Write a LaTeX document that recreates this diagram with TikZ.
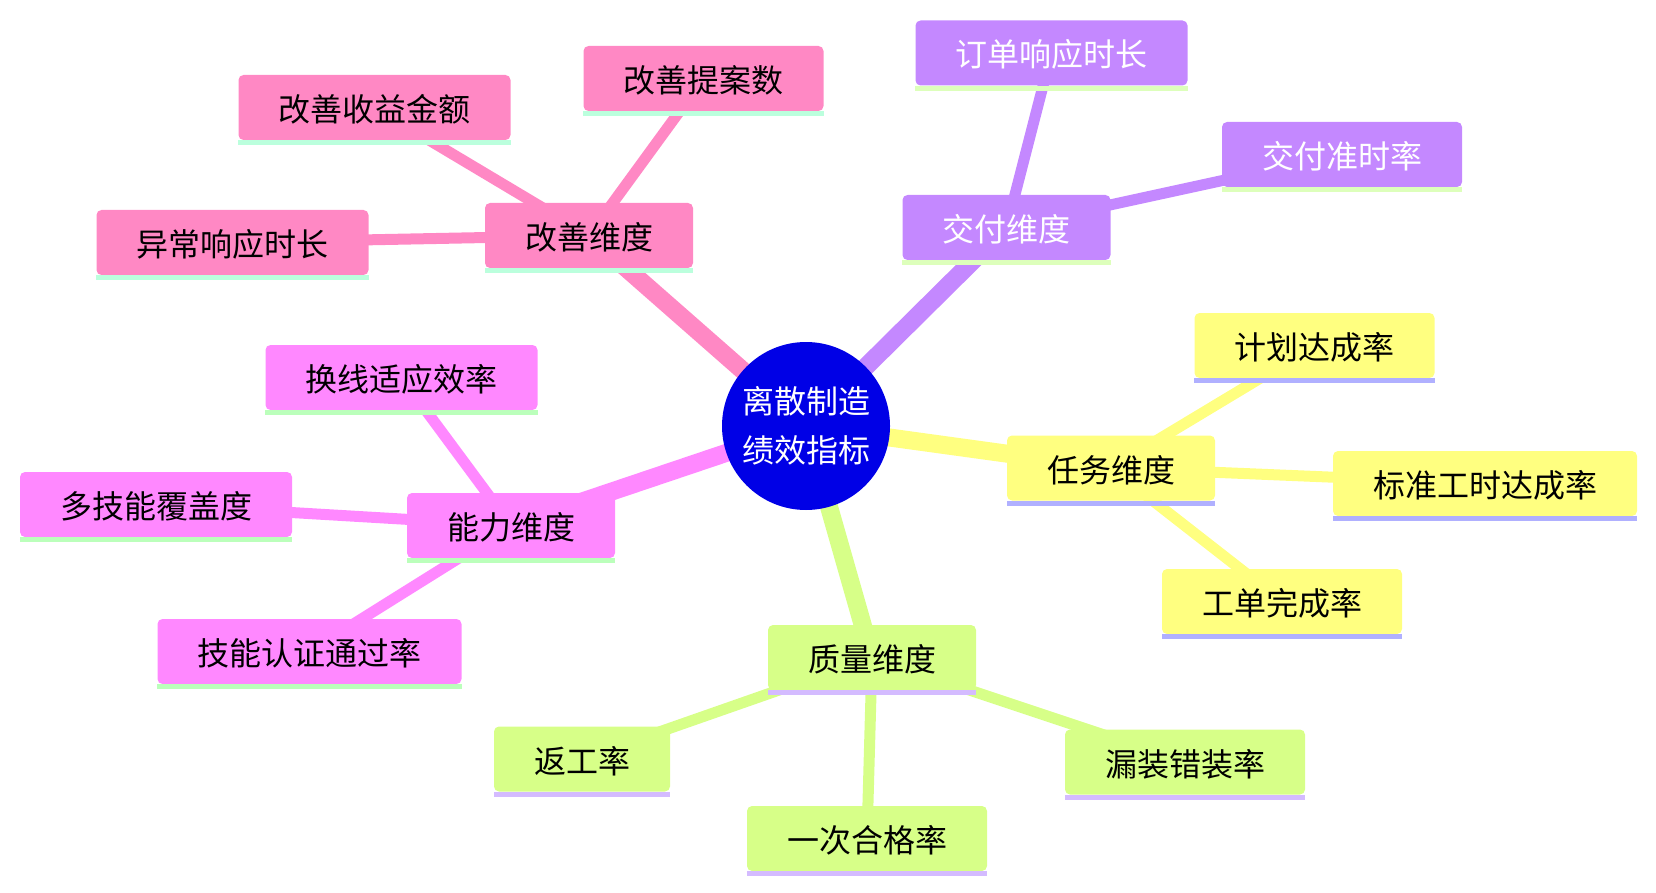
\documentclass[tikz,border=0pt]{standalone}
\usepackage{fontspec}
\setmainfont{Noto Sans CJK SC}
\usetikzlibrary{backgrounds}
\definecolor{rootc}{HTML}{0000E6}
\definecolor{pk}{HTML}{FF88C4}
\definecolor{pkul}{HTML}{BBFFDD}
\definecolor{pu}{HTML}{C488FF}
\definecolor{puul}{HTML}{DDFFBB}
\definecolor{ye}{HTML}{FFFF80}
\definecolor{yeul}{HTML}{B0B0FF}
\definecolor{li}{HTML}{D7FF88}
\definecolor{liul}{HTML}{D4BBFF}
\definecolor{mg}{HTML}{FF88FF}
\definecolor{mgul}{HTML}{BBFFBB}
\begin{document}
\begin{tikzpicture}[x=1pt,y=-1pt,
  box/.style={rectangle, rounded corners=5pt, minimum height=65pt, inner sep=0pt,
    text height=32pt, text depth=4pt,
    font=\fontsize{32}{38}\selectfont, text=black, anchor=center},
  rootedge/.style={line width=18pt},
  subedge/.style={line width=11pt}]
\useasboundingbox (0,0) rectangle (1656,893);
% root
\node[circle, fill=rootc, minimum size=168pt, inner sep=0pt, text=white, align=center,
  font=\fontsize{32}{49}\selectfont] (root) at (806,426) {离散制造\\绩效指标};
% 改善
\node[box, fill=pk, minimum width=208pt] (gs) at (589,235.5) {改善维度};
\node[box, fill=pk, minimum width=240pt] (g1) at (703.5,78.5) {改善提案数};
\node[box, fill=pk, minimum width=272pt] (g2) at (374.5,107.5) {改善收益金额};
\node[box, fill=pk, minimum width=272pt] (g3) at (232.5,242.5) {异常响应时长};
% 交付
\node[box, fill=pu, text=white, minimum width=208pt] (ds) at (1006.5,227.5) {交付维度};
\node[box, fill=pu, text=white, minimum width=272pt] (d1) at (1051.5,53) {订单响应时长};
\node[box, fill=pu, text=white, minimum width=240pt] (d2) at (1342,154.5) {交付准时率};
% 任务
\node[box, fill=ye, minimum width=208pt] (ts) at (1111,468) {任务维度};
\node[box, fill=ye, minimum width=240pt] (t1) at (1314.5,345.5) {计划达成率};
\node[box, fill=ye, minimum width=304pt] (t2) at (1485,483.5) {标准工时达成率};
\node[box, fill=ye, minimum width=240pt] (t3) at (1282,601.5) {工单完成率};
% 质量
\node[box, fill=li, minimum width=208pt] (qs) at (872,657.5) {质量维度};
\node[box, fill=li, minimum width=176pt] (q1) at (582,759) {返工率};
\node[box, fill=li, minimum width=240pt] (q2) at (867,838.5) {一次合格率};
\node[box, fill=li, minimum width=240pt] (q3) at (1185,762) {漏装错装率};
% 能力
\node[box, fill=mg, minimum width=208pt] (cs) at (511,525.5) {能力维度};
\node[box, fill=mg, minimum width=272pt] (c1) at (401.5,377.5) {换线适应效率};
\node[box, fill=mg, minimum width=272pt] (c2) at (156,504.5) {多技能覆盖度};
\node[box, fill=mg, minimum width=304pt] (c3) at (309.5,651.5) {技能认证通过率};
% underlines
\foreach \n/\c in {gs/pkul,g1/pkul,g2/pkul,g3/pkul,ds/puul,d1/puul,d2/puul,
  ts/yeul,t1/yeul,t2/yeul,t3/yeul,qs/liul,q1/liul,q2/liul,q3/liul,
  cs/mgul,c1/mgul,c2/mgul,c3/mgul}
  \fill[\c] (\n.south west) rectangle ([yshift=-5pt]\n.south east);
% edges
\begin{scope}[on background layer]
\draw[pk, rootedge] (root.center) -- (gs.center);
\draw[pu, rootedge] (root.center) -- (ds.center);
\draw[ye, rootedge] (root.center) -- (ts.center);
\draw[li, rootedge] (root.center) -- (qs.center);
\draw[mg, rootedge] (root.center) -- (cs.center);
\foreach \a/\b/\c in {gs/g1/pk,gs/g2/pk,gs/g3/pk,ds/d1/pu,ds/d2/pu,
  ts/t1/ye,ts/t2/ye,ts/t3/ye,qs/q1/li,qs/q2/li,qs/q3/li,cs/c1/mg,cs/c2/mg,cs/c3/mg}
  \draw[\c, subedge] (\a.center) -- (\b.center);
\end{scope}
\end{tikzpicture}
\end{document}
